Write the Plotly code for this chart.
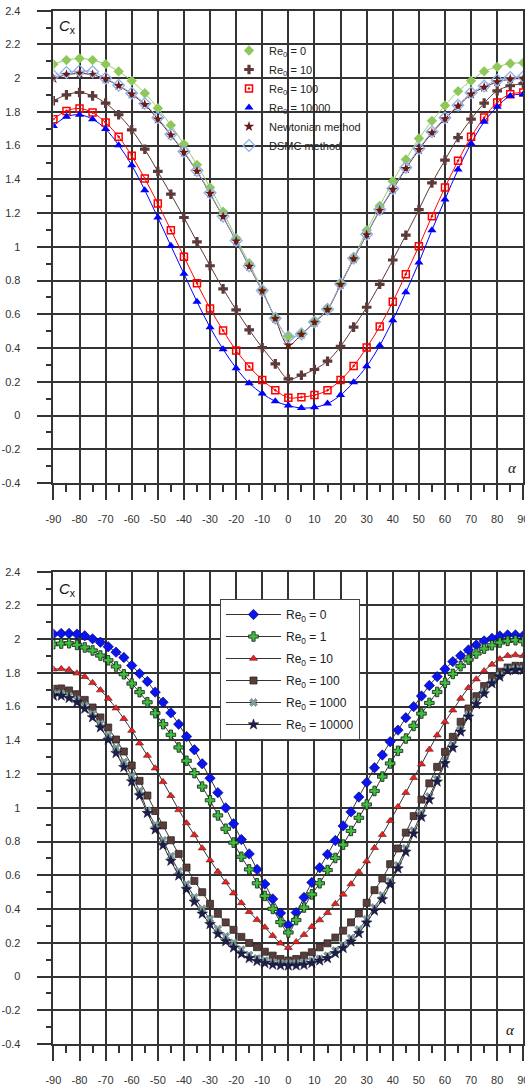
import plotly.graph_objects as go

# ---------------- data: top chart (step 5 deg) ----------------
ALPHA_TOP = [-90, -85, -80, -75, -70, -65, -60, -55, -50, -45, -40, -35, -30, -25, -20, -15, -10, -5,
             0, 5, 10, 15, 20, 25, 30, 35, 40, 45, 50, 55, 60, 65, 70, 75, 80, 85, 90]

TOP_RE0 = [2.083, 2.107, 2.117, 2.107, 2.083, 2.040, 1.984, 1.911, 1.822, 1.721, 1.609, 1.486, 1.352, 1.208, 1.052, 0.903, 0.745, 0.580,
           0.470, 0.487, 0.557, 0.632, 0.780, 0.932, 1.099, 1.243, 1.389, 1.518, 1.642, 1.747, 1.838, 1.923, 1.984, 2.040, 2.067, 2.087, 2.091]
TOP_RE10 = [1.866, 1.901, 1.915, 1.895, 1.852, 1.783, 1.694, 1.579, 1.447, 1.312, 1.174, 1.030, 0.888, 0.751, 0.626, 0.508, 0.402, 0.306,
            0.217, 0.239, 0.273, 0.322, 0.410, 0.524, 0.642, 0.778, 0.922, 1.069, 1.221, 1.379, 1.514, 1.648, 1.757, 1.852, 1.925, 1.955, 1.968]
TOP_RE100 = [1.757, 1.806, 1.820, 1.796, 1.737, 1.652, 1.540, 1.405, 1.257, 1.099, 0.942, 0.784, 0.634, 0.504, 0.385, 0.290, 0.211, 0.150,
             0.105, 0.109, 0.121, 0.150, 0.211, 0.294, 0.403, 0.528, 0.674, 0.838, 1.004, 1.182, 1.352, 1.510, 1.652, 1.767, 1.856, 1.905, 1.915]
TOP_RE10000 = [1.717, 1.771, 1.783, 1.757, 1.698, 1.603, 1.484, 1.336, 1.174, 1.006, 0.840, 0.675, 0.523, 0.393, 0.281, 0.192, 0.130, 0.085,
               0.059, 0.045, 0.049, 0.071, 0.121, 0.198, 0.292, 0.415, 0.565, 0.731, 0.907, 1.099, 1.281, 1.458, 1.613, 1.741, 1.830, 1.895, 1.905]
TOP_NEWTON = [1.998, 2.020, 2.028, 2.020, 1.994, 1.955, 1.905, 1.843, 1.757, 1.662, 1.560, 1.447, 1.316, 1.178, 1.034, 0.883, 0.738, 0.574,
              0.417, 0.481, 0.552, 0.627, 0.776, 0.928, 1.071, 1.216, 1.340, 1.463, 1.576, 1.675, 1.758, 1.833, 1.905, 1.945, 1.978, 1.994, 1.998]
TOP_DSMC = [2.014, 2.034, 2.043, 2.038, 2.000, 1.958, 1.911, 1.850, 1.765, 1.668, 1.565, 1.452, 1.320, 1.182, 1.038, 0.887, 0.741, 0.577,
            0.466, 0.484, 0.555, 0.630, 0.780, 0.932, 1.075, 1.221, 1.346, 1.470, 1.583, 1.682, 1.765, 1.840, 1.913, 1.953, 1.988, 2.004, 2.008]

TOP_NAMES = ["Re<sub>0</sub> = 0", "Re<sub>0</sub> = 10", "Re<sub>0</sub> = 100", "Re<sub>0</sub> = 10000",
             "Newtonian method", "DSMC method"]

# ---------------- data: bottom chart (step 3 deg) ----------------
ALPHA_BOT = [-90, -87, -84, -81, -78, -75, -72, -69, -66, -63, -60, -57, -54, -51, -48, -45, -42, -39, -36, -33, -30,
             -27, -24, -21, -18, -15, -12, -9, -6, -3, 0, 3, 6, 9, 12, 15, 18, 21, 24, 27, 30, 33, 36, 39, 42, 45,
             48, 51, 54, 57, 60, 63, 66, 69, 72, 75, 78, 81, 84, 87, 90]

BOT_RE0 = [2.030, 2.034, 2.034, 2.030, 2.020, 2.002, 1.982, 1.955, 1.923, 1.891, 1.844, 1.796, 1.749, 1.686, 1.626, 1.563,
           1.496, 1.423, 1.344, 1.261, 1.176, 1.090, 1.000, 0.906, 0.812, 0.727, 0.635, 0.548, 0.460, 0.376,
           0.305, 0.379, 0.469, 0.558, 0.645, 0.724, 0.806, 0.893, 0.976, 1.064, 1.151, 1.238, 1.313, 1.392, 1.461,
           1.534, 1.600, 1.663, 1.725, 1.778, 1.823, 1.867, 1.902, 1.936, 1.966, 1.990, 2.005, 2.019, 2.025, 2.025, 2.021]
BOT_RE1 = [1.970, 1.974, 1.976, 1.966, 1.951, 1.933, 1.903, 1.875, 1.838, 1.792, 1.737, 1.686, 1.626, 1.561, 1.496, 1.433,
           1.358, 1.279, 1.206, 1.126, 1.045, 0.955, 0.876, 0.794, 0.710, 0.635, 0.553, 0.478, 0.401, 0.323,
           0.261, 0.335, 0.409, 0.487, 0.553, 0.631, 0.703, 0.782, 0.863, 0.941, 1.020, 1.100, 1.185, 1.263, 1.338,
           1.411, 1.486, 1.559, 1.622, 1.687, 1.741, 1.794, 1.840, 1.879, 1.915, 1.944, 1.964, 1.980, 1.990, 1.994, 1.988]
BOT_RE10 = [1.822, 1.824, 1.818, 1.798, 1.777, 1.741, 1.698, 1.648, 1.591, 1.528, 1.458, 1.383, 1.310, 1.235, 1.154, 1.072,
            0.988, 0.910, 0.839, 0.761, 0.690, 0.622, 0.559, 0.494, 0.436, 0.384, 0.336, 0.292, 0.242, 0.197,
            0.171, 0.205, 0.248, 0.295, 0.335, 0.378, 0.431, 0.487, 0.548, 0.619, 0.684, 0.763, 0.841, 0.923, 1.006,
            1.090, 1.178, 1.259, 1.346, 1.431, 1.510, 1.579, 1.648, 1.712, 1.763, 1.812, 1.850, 1.882, 1.902, 1.906, 1.902]
BOT_RE100 = [1.706, 1.708, 1.696, 1.674, 1.640, 1.595, 1.536, 1.476, 1.405, 1.334, 1.251, 1.160, 1.073, 0.981, 0.896, 0.808,
             0.727, 0.646, 0.567, 0.500, 0.431, 0.372, 0.321, 0.277, 0.235, 0.199, 0.174, 0.147, 0.124, 0.104,
             0.095, 0.104, 0.124, 0.144, 0.173, 0.197, 0.231, 0.272, 0.321, 0.374, 0.437, 0.512, 0.581, 0.666, 0.759,
             0.853, 0.951, 1.049, 1.145, 1.243, 1.332, 1.421, 1.510, 1.589, 1.662, 1.722, 1.771, 1.807, 1.832, 1.842, 1.842]
BOT_RE1000 = [1.676, 1.678, 1.665, 1.643, 1.607, 1.558, 1.500, 1.430, 1.355, 1.272, 1.188, 1.100, 0.984, 0.900, 0.808, 0.714,
              0.625, 0.547, 0.470, 0.402, 0.341, 0.282, 0.239, 0.200, 0.160, 0.128, 0.108, 0.095, 0.086, 0.080,
              0.079, 0.080, 0.085, 0.093, 0.106, 0.124, 0.154, 0.187, 0.228, 0.279, 0.340, 0.410, 0.482, 0.565, 0.660,
              0.760, 0.866, 0.968, 1.068, 1.170, 1.280, 1.375, 1.465, 1.555, 1.630, 1.690, 1.745, 1.785, 1.820, 1.825, 1.825]
BOT_RE10000 = [1.664, 1.664, 1.650, 1.626, 1.587, 1.536, 1.476, 1.403, 1.324, 1.241, 1.156, 1.073, 0.969, 0.871, 0.778, 0.685,
               0.598, 0.517, 0.442, 0.372, 0.310, 0.252, 0.208, 0.171, 0.135, 0.108, 0.091, 0.079, 0.070, 0.066,
               0.064, 0.065, 0.069, 0.079, 0.094, 0.108, 0.138, 0.168, 0.207, 0.256, 0.319, 0.390, 0.457, 0.546, 0.640,
               0.739, 0.847, 0.946, 1.049, 1.155, 1.264, 1.356, 1.451, 1.540, 1.615, 1.678, 1.737, 1.777, 1.813, 1.817, 1.817]

BOT_NAMES = ["Re<sub>0</sub> = 0", "Re<sub>0</sub> = 1", "Re<sub>0</sub> = 10", "Re<sub>0</sub> = 100",
             "Re<sub>0</sub> = 1000", "Re<sub>0</sub> = 10000"]

# ---------------- tick labels ----------------
X_TICKS = [-90, -80, -70, -60, -50, -40, -30, -20, -10, 0, 10, 20, 30, 40, 50, 60, 70, 80, 90]
X_TICK_LABELS = ["-90", "-80", "-70", "-60", "-50", "-40", "-30", "-20", "-10", "0",
                 "10", "20", "30", "40", "50", "60", "70", "80", "90"]
Y_TICKS = [2.4, 2.2, 2.0, 1.8, 1.6, 1.4, 1.2, 1.0, 0.8, 0.6, 0.4, 0.2, 0.0, -0.2, -0.4]
Y_TICK_LABELS = ["2.4", "2.2", "2", "1.8", "1.6", "1.4", "1.2", "1", "0.8", "0.6", "0.4", "0.2", "0", "-0.2", "-0.4"]

# ---------------- styles ----------------
W, H = 525, 1085
GC = "#333333"
FONT = "Liberation Sans, Arial, sans-serif"

top_series = [TOP_RE0, TOP_RE10, TOP_RE100, TOP_RE10000, TOP_NEWTON, TOP_DSMC]
top_style = [
    dict(line="#99cc66", marker=dict(symbol="diamond", size=8, color="#8fc85a")),
    dict(line="#5c3a3a", marker=dict(symbol="cross", size=8, color="#5c3a3a")),
    dict(line="#ff0000", marker=dict(symbol="square-open-dot", size=7, color="#ff0000", line=dict(width=1.5, color="#ff0000"))),
    dict(line="#0000ff", marker=dict(symbol="triangle-up", size=8, color="#0000ff")),
    dict(line="#6b1a1a", marker=dict(symbol="star", size=8, color="#6b1a1a")),
    dict(line="#8fb0e6", marker=dict(symbol="diamond-open", size=9, color="#8fb0e6", line=dict(width=1.3, color="#8fb0e6"))),
]

bot_series = [BOT_RE0, BOT_RE1, BOT_RE10, BOT_RE100, BOT_RE1000, BOT_RE10000]
bot_markers = [
    dict(symbol="diamond", size=8, color="#0a14f0", line=dict(width=0.6, color="#000060")),
    dict(symbol="cross", size=8, color="#3cbf3c", line=dict(width=0.8, color="#1a1a1a")),
    dict(symbol="triangle-up", size=7, color="#ee2020", line=dict(width=0.6, color="#5a1a1a")),
    dict(symbol="square", size=7, color="#5c3c38", line=dict(width=0.8, color="#2a2a2a")),
    dict(symbol="x", size=7, color="#7f9a9a", line=dict(width=0.5, color="#5f7a7a")),
    dict(symbol="star", size=8, color="#1e1e4c", line=dict(width=0.5, color="#0a0a2a")),
]

fig = go.Figure()

# top chart: smoothed lines + markers (legend shows marker only)
for i, (vals, st) in enumerate(zip(top_series, top_style)):
    fig.add_trace(go.Scatter(x=ALPHA_TOP, y=vals, mode="lines", line=dict(color=st["line"], width=1, shape="spline"),
                             xaxis="x", yaxis="y", showlegend=False, hoverinfo="skip"))
for i, (vals, st) in enumerate(zip(top_series, top_style)):
    fig.add_trace(go.Scatter(x=ALPHA_TOP, y=vals, mode="markers", marker=st["marker"], name=TOP_NAMES[i],
                             xaxis="x", yaxis="y", legend="legend", legendgroup="t%d" % i))

# bottom chart
for i, vals in enumerate(bot_series):
    fig.add_trace(go.Scatter(x=ALPHA_BOT, y=vals, mode="lines+markers",
                             line=dict(color="#333333", width=1, shape="spline"),
                             marker=bot_markers[i], name=BOT_NAMES[i],
                             xaxis="x2", yaxis="y2", legend="legend2", legendgroup="b%d" % i))


def xaxis(anchor):
    return dict(
        domain=[53.4 / W, 523.3 / W], anchor=anchor, range=[-90, 90], automargin=False,
        tickmode="array", tickvals=X_TICKS, ticktext=X_TICK_LABELS, ticklabeloverflow="allow",
        showgrid=True, gridcolor=GC, gridwidth=1.5,
        ticks="outside", ticklen=15, tickwidth=1.5, tickcolor=GC,
        minor=dict(tickmode="linear", tick0=-90, dtick=5, ticks="outside", ticklen=7, tickwidth=1.5,
                   tickcolor=GC, showgrid=False),
        showline=True, linecolor=GC, linewidth=1.5, mirror=True, zeroline=False,
        tickfont=dict(family=FONT, size=11, color="#333333"), ticklabelstandoff=10,
    )


def yaxis(anchor, top_px, bot_px):
    return dict(
        domain=[1 - bot_px / H, 1 - top_px / H], anchor=anchor, range=[-0.4, 2.4], automargin=False,
        tickmode="array", tickvals=Y_TICKS, ticktext=Y_TICK_LABELS,
        showgrid=True, gridcolor=GC, gridwidth=1.5,
        ticks="outside", ticklen=15, tickwidth=1.5, tickcolor=GC,
        minor=dict(tickmode="linear", tick0=-0.4, dtick=0.1, ticks="outside", ticklen=6, tickwidth=1.5,
                   tickcolor=GC, showgrid=False),
        showline=True, linecolor=GC, linewidth=1.5, mirror=True, zeroline=False,
        tickfont=dict(family=FONT, size=11, color="#333333"), ticklabelstandoff=14,
    )


fig.update_layout(
    width=W, height=H, autosize=False,
    margin=dict(l=0, r=0, t=0, b=0, pad=0),
    paper_bgcolor="white", plot_bgcolor="white",
    font=dict(family=FONT, color="#222222"),
    xaxis=xaxis("y"),
    yaxis=yaxis("x", 10.7, 483.0),
    xaxis2=xaxis("y2"),
    yaxis2=yaxis("x2", 571.7, 1044.0),
    legend=dict(x=229 / W, y=1 - 36 / H, xanchor="left", yanchor="top", bgcolor="rgba(0,0,0,0)",
                borderwidth=0, font=dict(family=FONT, size=11, color="#222222"), tracegroupgap=0),
    legend2=dict(x=220 / W, y=1 - 599 / H, xanchor="left", yanchor="top", bgcolor="white",
                 bordercolor="#444444", borderwidth=1, itemwidth=55,
                 font=dict(family=FONT, size=12, color="#222222"), tracegroupgap=3),
    showlegend=True,
    annotations=[
        dict(text="<i>C</i><sub>x</sub>", xref="x domain", yref="y domain", x=0.008, y=0.966,
             xanchor="left", yanchor="middle", showarrow=False,
             font=dict(family=FONT, size=15, color="#111111")),
        dict(text="<i>α</i>", xref="x domain", yref="y domain", x=0.976, y=0.032,
             xanchor="center", yanchor="middle", showarrow=False,
             font=dict(family="Liberation Serif, serif", size=15, color="#111111")),
        dict(text="<i>C</i><sub>x</sub>", xref="x2 domain", yref="y2 domain", x=0.008, y=0.963,
             xanchor="left", yanchor="middle", showarrow=False,
             font=dict(family=FONT, size=15, color="#111111")),
        dict(text="<i>α</i>", xref="x2 domain", yref="y2 domain", x=0.972, y=0.03,
             xanchor="center", yanchor="middle", showarrow=False,
             font=dict(family="Liberation Serif, serif", size=15, color="#111111")),
    ],
)

fig.write_html("out.html", config={"displayModeBar": False},
               post_script="document.body.style.margin='0';document.body.style.overflow='hidden';")
